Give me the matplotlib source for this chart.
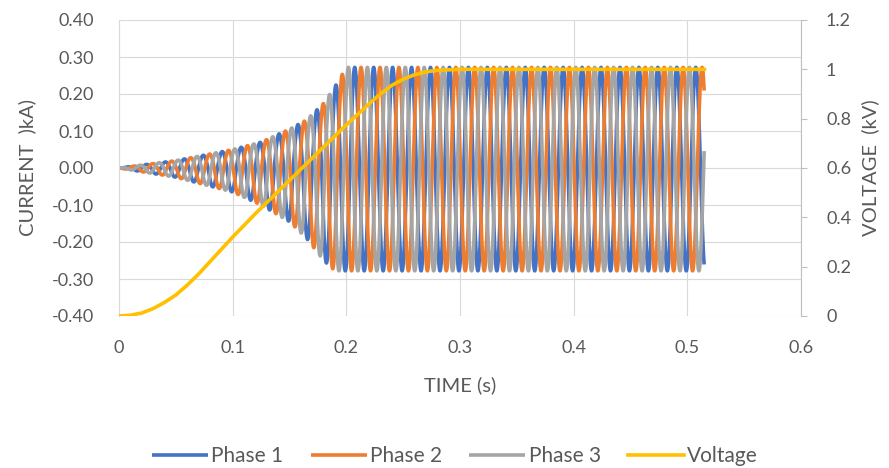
import matplotlib.pyplot as plt
import numpy as np

plt.rcParams['font.family'] = ['Lato', 'DejaVu Sans']

# current envelope (kA)
env_t = [0, 0.05, 0.10, 0.125, 0.15, 0.165, 0.18, 0.19, 0.20, 0.515]
env_top = [0, 0.02, 0.05, 0.07, 0.105, 0.13, 0.175, 0.22, 0.272, 0.272]
env_bot = [0, 0.025, 0.065, 0.10, 0.145, 0.19, 0.25, 0.278, 0.278, 0.278]
freq = 60.0
phase_deg = [-70, -190, 50]
names = ['Phase 1', 'Phase 2', 'Phase 3']
colors = ['#4472C4', '#ED7D31', '#A5A5A5']

# voltage (kV)
volt_t = [0, 0.01, 0.02, 0.03, 0.04, 0.05, 0.06, 0.07, 0.08, 0.09, 0.10, 0.12,
          0.14, 0.16, 0.18, 0.20, 0.22, 0.23, 0.24, 0.25, 0.26, 0.27, 0.28,
          0.30, 0.515]
volt_v = [0, 0.003, 0.012, 0.03, 0.055, 0.085, 0.125, 0.17, 0.22, 0.27, 0.32,
          0.415, 0.505, 0.595, 0.685, 0.775, 0.86, 0.90, 0.935, 0.96, 0.978,
          0.99, 0.996, 1.0, 1.0]

t = np.arange(0, 0.515, 0.0002)
top = np.interp(t, env_t, env_top)
bot = np.interp(t, env_t, env_bot)

fig = plt.figure(figsize=(8.89, 4.68), dpi=100)
ax = fig.add_axes([119 / 889, 1 - 316 / 468, 682 / 889, 296 / 468])
ax2 = ax.twinx()

txt = '#595959'
grid = '#D9D9D9'

lines = []
for name, col, ph in zip(names, colors, phase_deg):
    s = np.sin(2 * np.pi * freq * t + np.radians(ph))
    y = np.where(s > 0, top * s, bot * s)
    l, = ax.plot(t, y, color=col, lw=2.6, label=name, solid_capstyle='butt')
    lines.append(l)

lv, = ax2.plot(volt_t, volt_v, color='#FFC000', lw=2.6, label='Voltage')
lines.append(lv)

yt = np.round(np.arange(-0.4, 0.41, 0.1), 2) + 0.0
ax.set_xlim(0, 0.6)
ax.set_ylim(-0.4, 0.4)
ax2.set_ylim(0, 1.2)
ax.set_xticks(np.arange(0, 0.61, 0.1))
ax.set_xticklabels(['0', '0.1', '0.2', '0.3', '0.4', '0.5', '0.6'])
ax.set_yticks(yt)
ax.set_yticklabels(['%.2f' % (v if abs(v) > 1e-9 else 0.0) for v in yt])
ax2.set_yticks(np.arange(0, 1.21, 0.2))
ax2.set_yticklabels(['0', '0.2', '0.4', '0.6', '0.8', '1', '1.2'])

ax.grid(True, color=grid, lw=0.8)
ax.set_axisbelow(True)
for sp in ['top', 'bottom', 'right']:
    ax.spines[sp].set_visible(False)
ax.spines['left'].set_color(grid)
for sp in ['top', 'bottom', 'left']:
    ax2.spines[sp].set_visible(False)
ax2.spines['right'].set_color('#BFBFBF')

ax.tick_params(axis='both', length=0, labelsize=13, labelcolor=txt)
ax.tick_params(axis='y', pad=18)
ax.tick_params(axis='x', pad=17)
ax2.tick_params(axis='y', length=4, color='#BFBFBF', labelsize=13,
                labelcolor=txt, pad=14)

ax.set_xlabel('TIME (s)', fontsize=14.5, color=txt, labelpad=15)
ax.set_ylabel('CURRENT  )kA)', fontsize=14.5, color=txt, labelpad=11)
ax2.set_ylabel('VOLTAGE  (kV)', fontsize=14.5, color=txt, labelpad=7)

fig.legend(handles=lines, loc='center', bbox_to_anchor=(455 / 889, 1 - 456 / 468),
           ncol=4, frameon=False, fontsize=15, labelcolor=txt,
           handlelength=2.7, handletextpad=0.15, columnspacing=1.3)

fig.savefig('out.png', dpi=100)
